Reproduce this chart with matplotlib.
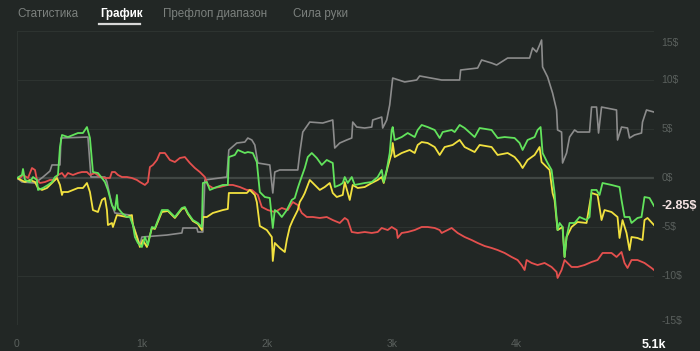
import matplotlib.pyplot as plt

plt.rcParams['font.family'] = ['Liberation Sans', 'DejaVu Sans']

# ---- data (hands played, winnings in $) ----
gray_hands = [0, 40, 144, 208, 264, 280, 344, 352, 568, 592, 704, 720, 760, 784, 904, 984, 1000,
              1200, 1320, 1328, 1440, 1448, 1488, 1504, 1680, 1696, 1760, 1824, 1848, 1880, 1904,
              1928, 2024, 2048, 2064, 2104, 2248, 2264, 2288, 2344, 2448, 2528, 2544, 2584, 2640,
              2680, 2688, 2720, 2784, 2840, 2848, 2920, 2928, 2960, 2984, 3008, 3104, 3200, 3224,
              3400, 3544, 3552, 3688, 3720, 3800, 3840, 3928, 4104, 4128, 4160, 4184, 4200, 4208,
              4248, 4288, 4320, 4328, 4360, 4368, 4400, 4424, 4464, 4488, 4584, 4600, 4640, 4656,
              4680, 4800, 4808, 4840, 4888, 4904, 4944, 5000, 5008, 5040, 5100]
gray_usd = [0, -0.41, -0.51, 0.10, 0.71, 1.33, 1.33, 4.08, 4.18, 0.10, 0.10, -0.41, -2.76, -3.57,
            -3.78, -6.84, -6.02, -5.82, -5.61, -5.10, -5.10, -5.51, -5.51, -0.20, 0.10, 2.86, 3.57,
            3.67, 4.08, 3.88, 3.37, 1.53, 1.33, -1.53, 0.61, 0.82, 0.82, 2.55, 4.69, 5.71, 5.61,
            5.92, 3.06, 3.57, 3.88, 4.08, 5.71, 5.20, 5.10, 5.20, 5.92, 6.22, 5.10, 5.92, 7.45,
            10.20, 9.80, 10.0, 10.41, 10.0, 10.0, 11.02, 11.22, 12.04, 11.73, 11.53, 12.24, 12.24,
            13.27, 12.86, 13.57, 14.08, 11.33, 10.31, 8.67, 6.94, 4.90, 4.69, 1.53, 2.55, 4.18,
            4.90, 4.69, 4.69, 7.24, 7.24, 4.59, 7.24, 6.94, 3.88, 5.20, 5.10, 4.08, 4.39, 4.59,
            5.71, 6.94, 6.73]

green_hands = [0, 40, 48, 64, 104, 128, 160, 168, 208, 248, 280, 304, 328, 344, 360, 408, 448, 488,
               528, 560, 584, 608, 648, 680, 704, 728, 760, 784, 800, 808, 840, 880, 904, 928, 944,
               968, 1000, 1024, 1048, 1080, 1104, 1160, 1208, 1264, 1320, 1344, 1368, 1408, 1448,
               1480, 1488, 1520, 1544, 1600, 1648, 1688, 1696, 1744, 1768, 1824, 1848, 1888, 1920,
               1944, 1984, 2024, 2048, 2064, 2088, 2120, 2160, 2200, 2224, 2248, 2264, 2304, 2328,
               2360, 2400, 2440, 2480, 2528, 2544, 2584, 2608, 2624, 2648, 2680, 2704, 2784, 2840,
               2888, 2920, 2936, 2960, 2984, 3000, 3008, 3024, 3080, 3128, 3184, 3208, 3240, 3288,
               3344, 3384, 3408, 3480, 3504, 3544, 3584, 3664, 3704, 3800, 3848, 3904, 3984, 4024,
               4048, 4088, 4144, 4168, 4192, 4208, 4248, 4280, 4304, 4328, 4344, 4368, 4384, 4400,
               4424, 4464, 4504, 4560, 4584, 4600, 4640, 4664, 4688, 4760, 4824, 4840, 4864, 4904,
               4920, 4968, 5000, 5024, 5064, 5100]
green_usd = [0, 0.31, 0.92, -0.20, -0.41, 0.10, -0.20, -1.22, -1.02, -0.71, -0.41, 0.10, 0.31,
             3.16, 4.39, 4.18, 4.39, 4.59, 4.59, 5.20, 4.08, 0.61, 0.51, 0, -0.41, -1.22, -2.76,
             -3.27, -1.73, -3.06, -3.57, -3.98, -3.98, -4.80, -6.02, -6.63, -7.04, -6.02, -6.84,
             -5.00, -5.10, -3.27, -3.27, -3.98, -3.06, -2.96, -3.57, -4.29, -4.59, -5.00, -0.51,
             -0.41, -1.22, -0.92, -0.71, -0.71, 2.14, 2.35, 2.86, 2.55, 2.65, 2.55, 1.63, -1.43,
             -1.94, -2.04, -5.10, -3.27, -3.47, -3.98, -3.27, -2.24, -2.04, -1.02, -0.41, 1.02,
             2.14, 2.55, 2.04, 1.33, 1.84, 1.53, -0.92, -0.71, -0.51, 0.10, -0.51, 0.10, -0.71,
             -0.51, -0.41, 0.10, 0.82, -0.41, 0.82, 2.55, 4.90, 5.20, 3.88, 4.18, 4.59, 4.18, 4.90,
             5.41, 5.20, 4.90, 4.08, 4.69, 4.90, 4.69, 5.41, 5.10, 4.18, 5.10, 4.90, 4.08, 4.18,
             4.08, 3.57, 2.86, 3.88, 4.18, 4.90, 5.20, 2.55, 1.53, 0.82, -1.53, -5.31, -4.59,
             -5.00, -8.06, -6.02, -4.59, -4.59, -3.98, -4.29, -3.98, -1.22, -1.22, -1.73, -0.51,
             -0.71, -0.92, -2.24, -3.98, -3.98, -4.59, -4.08, -3.98, -1.94, -2.04, -2.85]

yellow_hands = [0, 64, 104, 144, 168, 200, 240, 264, 288, 320, 344, 360, 368, 408, 448, 488, 528,
                560, 584, 608, 648, 680, 704, 720, 728, 760, 768, 800, 880, 920, 928, 960, 984,
                1008, 1040, 1080, 1104, 1160, 1208, 1264, 1320, 1344, 1368, 1408, 1448, 1480, 1488,
                1520, 1568, 1648, 1688, 1696, 1784, 1840, 1864, 1904, 1920, 1944, 2000, 2040, 2048,
                2064, 2104, 2144, 2160, 2184, 2208, 2248, 2264, 2288, 2304, 2344, 2384, 2424, 2464,
                2504, 2528, 2560, 2608, 2624, 2664, 2688, 2728, 2784, 2840, 2888, 2920, 2936, 2968,
                3000, 3008, 3024, 3080, 3144, 3184, 3208, 3240, 3288, 3344, 3384, 3424, 3488, 3544,
                3584, 3664, 3704, 3800, 3848, 3928, 3984, 4024, 4048, 4088, 4144, 4184, 4200, 4224,
                4264, 4288, 4304, 4328, 4368, 4384, 4400, 4440, 4488, 4560, 4600, 4648, 4680, 4704,
                4760, 4808, 4824, 4848, 4880, 4904, 4920, 4968, 5008, 5024, 5048, 5100]
yellow_usd = [0, -0.41, -0.20, -0.41, -1.02, -1.22, -1.02, -0.71, -0.41, 0, -0.71, -1.73, -1.43,
              -1.43, -1.22, -1.02, -1.02, -0.51, -1.43, -3.27, -3.47, -2.24, -2.04, -3.27, -4.80,
              -4.59, -5.00, -3.78, -3.98, -3.78, -4.80, -6.02, -7.04, -6.33, -7.04, -5.10, -5.20,
              -3.47, -3.37, -4.08, -3.16, -3.06, -3.67, -4.39, -4.69, -5.31, -3.98, -3.98, -3.57,
              -3.27, -3.16, -1.53, -1.53, -1.53, -1.22, -1.73, -2.45, -4.90, -5.31, -6.02, -8.47,
              -6.63, -7.14, -7.55, -6.33, -5.00, -4.29, -3.27, -2.45, -1.94, -1.53, -0.20, -0.71,
              -1.22, -0.92, -0.51, -1.53, -1.94, -1.73, -0.41, -2.24, -0.71, -1.02, -0.92, -0.51,
              -0.20, 0.10, -0.51, 1.12, 2.55, 3.57, 2.14, 2.55, 2.86, 2.55, 3.37, 3.67, 3.57, 3.16,
              2.35, 3.16, 3.37, 3.88, 3.16, 2.65, 3.37, 3.16, 2.35, 2.55, 2.14, 1.53, 1.02, 1.84,
              2.35, 3.16, 1.63, 1.33, 0.82, -1.53, -2.24, -5.31, -5.00, -8.06, -6.02, -5.00, -4.49,
              -4.59, -1.53, -1.73, -4.29, -3.27, -3.47, -3.98, -6.12, -4.29, -5.61, -7.35, -6.02,
              -6.12, -6.33, -4.29, -4.08, -4.80]

red_hands = [0, 24, 48, 88, 120, 144, 160, 184, 224, 264, 304, 328, 360, 384, 408, 448, 488, 520,
             560, 584, 624, 664, 704, 744, 760, 784, 808, 840, 880, 920, 960, 984, 1024, 1048, 1064,
             1088, 1120, 1144, 1184, 1224, 1264, 1304, 1344, 1384, 1424, 1464, 1504, 1528, 1568,
             1624, 1688, 1728, 1784, 1840, 1880, 1928, 1960, 2008, 2064, 2120, 2168, 2208, 2248,
             2280, 2320, 2368, 2424, 2480, 2528, 2584, 2624, 2648, 2680, 2728, 2784, 2840, 2888,
             2920, 2968, 3000, 3040, 3048, 3080, 3128, 3184, 3240, 3288, 3344, 3384, 3400, 3448,
             3480, 3528, 3584, 3640, 3688, 3744, 3800, 3848, 3904, 3960, 4008, 4040, 4064, 4080,
             4120, 4168, 4224, 4280, 4320, 4328, 4360, 4384, 4440, 4488, 4544, 4600, 4648, 4688,
             4760, 4800, 4840, 4864, 4888, 4920, 4968, 5024, 5080, 5100]
red_usd = [0, 0, 0.31, 0, 1.02, 0.82, -0.20, -0.51, -0.41, -0.20, -0.20, 0.31, 0.51, 0.10, 0.51,
           0.31, 0.51, 0.61, 0.61, 0.31, 0.51, 0.10, 0, 0, 0.61, 0.61, 0.31, 0.10, 0.10, 0, -0.20,
           -0.41, -0.71, -0.41, 1.12, 1.33, 1.84, 2.55, 2.55, 1.84, 1.63, 2.04, 2.14, 1.53, 1.02,
           0.61, 0.10, -0.71, -1.02, -0.92, -0.71, -0.71, -0.92, -1.22, -1.22, -1.73, -2.96, -3.27,
           -3.47, -3.06, -3.27, -2.45, -2.76, -3.57, -3.98, -3.98, -4.08, -3.98, -4.29, -4.59,
           -4.08, -4.29, -5.51, -5.61, -5.51, -5.61, -5.51, -5.10, -5.31, -5.00, -5.31, -6.12,
           -5.61, -5.51, -5.31, -5.00, -5.00, -5.10, -5.31, -5.61, -5.31, -5.10, -5.61, -6.02,
           -6.33, -6.63, -6.94, -7.14, -7.35, -7.65, -8.06, -8.37, -8.88, -9.39, -8.37, -8.67,
           -8.88, -8.67, -9.08, -9.59, -10.20, -9.39, -8.37, -9.08, -9.08, -8.88, -8.57, -8.37,
           -7.65, -7.65, -8.06, -7.55, -8.67, -9.18, -8.37, -8.37, -8.67, -9.18, -9.39]

y_ticks = [15, 10, 5, 0, -5, -10, -15]
x_ticks = [0, 1000, 2000, 3000, 4000, 5100]
x_labels = ['0', '1k', '2k', '3k', '4k', '5.1k']
tabs = ['Статистика', 'График', 'Префлоп диапазон', 'Сила руки']
final_label = '-2.85$'

# ---- figure ----
bg = '#222725'
fig = plt.figure(figsize=(7, 3.51), dpi=100, facecolor=bg)
ax = fig.add_axes([17 / 700, 26 / 351, 637 / 700, 294 / 351])
ax.set_facecolor(bg)

for v in y_ticks:
    ax.axhline(v, color='#414744' if v == 0 else '#2d3330', lw=1.6 if v == 0 else 0.8, zorder=1)
ax.axvline(0, color='#2d3330', lw=0.8, zorder=1)
ax.axvline(5100, color='#2d3330', lw=0.8, zorder=1)

ax.plot(gray_hands, gray_usd, color='#8c8c8c', lw=1.2, zorder=2)
ax.plot(red_hands, red_usd, color='#e5504e', lw=1.3, zorder=3)
ax.plot(yellow_hands, yellow_usd, color='#f2e13f', lw=1.3, zorder=4)
ax.plot(green_hands, green_usd, color='#62e35c', lw=1.3, zorder=5)

ax.set_xlim(0, 5100)
ax.set_ylim(-15, 15)
for s in ax.spines.values():
    s.set_visible(False)
ax.set_yticks([])
ax.set_xticks(x_ticks)
ax.set_xticklabels(x_labels, fontsize=7.5, color='#5a605d')
ax.tick_params(axis='x', length=0, pad=10)
last = ax.get_xticklabels()[-1]
last.set_color('white')
last.set_fontweight('bold')
last.set_fontsize(9)

# right-side $ labels
for v in y_ticks:
    yy = v
    if v == 15:
        yy = 13.8
    elif v == -15:
        yy = -14.6
    ax.text(1.012, yy, f'{v}$', transform=ax.get_yaxis_transform(), fontsize=7.5,
            color='#5a605d', va='center', ha='left')
ax.text(1.012, green_usd[-1], final_label, transform=ax.get_yaxis_transform(), fontsize=9,
        color='#f6e4e4', fontweight='bold', va='center', ha='left')

# tabs on top
tab_x = [17, 100, 163, 293]
for i, (t, tx) in enumerate(zip(tabs, tab_x)):
    active = i == 1
    fig.text(tx / 700, 1 - 14 / 351, t, fontsize=8.4, va='center', ha='left',
             color='white' if active else '#7c817e', fontweight='bold' if active else 'normal')
fig.add_artist(plt.Line2D([99 / 700, 140 / 700], [1 - 24 / 351, 1 - 24 / 351], color='#d8d8d8', lw=1.6))

fig.savefig('out.png', dpi=100, facecolor=bg)
